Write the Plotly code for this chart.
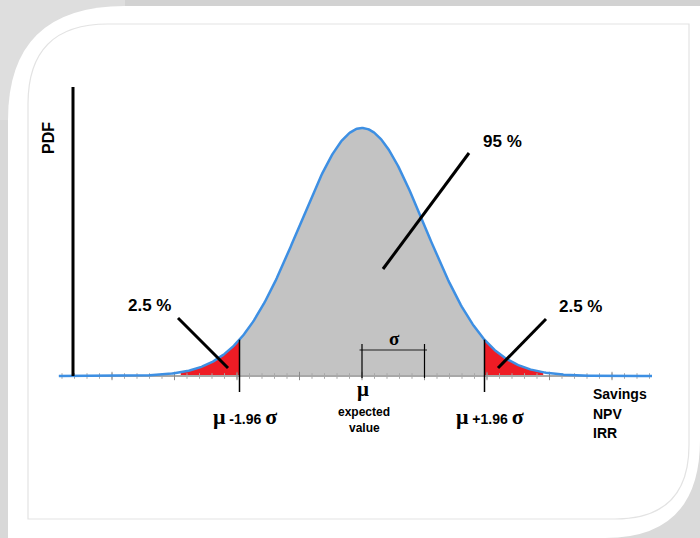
import numpy as np
import plotly.graph_objects as go

# ---------------- data (in units of sigma) ----------------
MU = 0.0
SIGMA = 1.0
Z_CRIT = 1.96
X_MIN, X_MAX = -4.85, 4.64          # extent of the drawn curve
RED_TAIL = 2.9                      # where the red tails become visible
MAJOR_TICKS = [-4, -3, -2, -1, 0, 1, 2, 3, 4]
MINOR_STEP = 0.2

LBL_PDF = "PDF"
LBL_CENTER = "95 %"
LBL_TAIL = "2.5 %"
LBL_MU = "μ"
LBL_EXPECTED = ["expected", "value"]
LBL_SIGMA = "σ"
LBL_AXIS = ["Savings", "NPV", "IRR"]

# ---------------- helpers ----------------
W, H = 700, 538
SIG_PX = 62.5        # pixels per sigma
MU_PX = 362.0        # pixel of mu
BASE_PX = 376.0      # pixel of baseline
Y_PX = 621.6         # pixels per pdf unit


def pdf(x):
    return np.exp(-0.5 * ((x - MU) / SIGMA) ** 2) / (SIGMA * np.sqrt(2 * np.pi))


def px(x):
    return x / W


def py(y):
    return 1 - y / H


x_range = [(0 - MU_PX) / SIG_PX, (W - MU_PX) / SIG_PX]
y_range = [-(H - BASE_PX) / Y_PX, BASE_PX / Y_PX]

xs = np.linspace(X_MIN, X_MAX, 600)
ys = pdf(xs)

BLUE = "#3d8fe3"
GRAY = "#c3c3c3"
RED = "#ee1c25"

fig = go.Figure()

# gray central area
xc = xs[(xs >= -Z_CRIT) & (xs <= Z_CRIT)]
xc = np.concatenate([[-Z_CRIT], xc, [Z_CRIT]])
fig.add_trace(go.Scatter(x=xc, y=pdf(xc), fill="tozeroy", fillcolor=GRAY,
                         mode="none", hoverinfo="skip"))
# red tails
for lo, hi in [(-RED_TAIL, -Z_CRIT), (Z_CRIT, RED_TAIL)]:
    xt = np.linspace(lo, hi, 80)
    fig.add_trace(go.Scatter(x=xt, y=pdf(xt), fill="tozeroy", fillcolor=RED,
                             mode="none", hoverinfo="skip"))

# baseline
fig.add_trace(go.Scatter(x=[X_MIN, X_MAX], y=[0, 0], mode="lines",
                         line=dict(color="#a8a8a8", width=2), hoverinfo="skip"))
# ticks
minor = np.arange(-4.8, 4.61, MINOR_STEP)
fig.add_trace(go.Scatter(x=minor, y=np.zeros_like(minor), mode="markers",
                         marker=dict(symbol="line-ns", size=4,
                                     line=dict(width=1, color="#a8a8a8")),
                         hoverinfo="skip"))
fig.add_trace(go.Scatter(x=MAJOR_TICKS, y=[0] * len(MAJOR_TICKS), mode="markers",
                         marker=dict(symbol="line-ns", size=6,
                                     line=dict(width=1, color="#8a8a8a")),
                         hoverinfo="skip"))

# curve
fig.add_trace(go.Scatter(x=xs, y=ys, mode="lines",
                         line=dict(color=BLUE, width=2.5), hoverinfo="skip"))

shapes = []

# ---------- decorative frame (paper pixels) ----------
shapes.append(dict(type="rect", xref="paper", yref="paper", x0=0, x1=1,
                   y0=py(6), y1=1, fillcolor="#d2d2d2", line_width=0, layer="below"))
shapes.append(dict(type="rect", xref="paper", yref="paper", x0=0, x1=px(8),
                   y0=0, y1=1, fillcolor="#d8d8d8", line_width=0, layer="below"))
shapes.append(dict(type="rect", xref="paper", yref="paper", x0=0, x1=px(125),
                   y0=py(120), y1=1, fillcolor="#dedede", line_width=0, layer="below"))
shapes.append(dict(type="rect", xref="paper", yref="paper", x0=px(590), x1=1,
                   y0=0, y1=py(430), fillcolor="#dadada", line_width=0, layer="below"))


def P(x, y):
    return f"{px(x):.5f},{py(y):.5f}"


card = (f"M {P(8,120)} Q {P(8,6)} {P(125,6)} L {P(700,6)} L {P(700,440)} "
        f"Q {P(700,538)} {P(605,538)} L {P(8,538)} Z")
shapes.append(dict(type="path", xref="paper", yref="paper", path=card,
                   fillcolor="white", line_width=0, layer="below"))
inner = (f"M {P(28,104)} Q {P(28,24)} {P(108,24)} L {P(689,24)} L {P(689,445)} "
         f"Q {P(689,519)} {P(615,519)} L {P(28,519)} Z")
shapes.append(dict(type="path", xref="paper", yref="paper", path=inner,
                   fillcolor="rgba(0,0,0,0)", line=dict(color="#e3e3e3", width=1.2),
                   layer="below"))

# ---------- vertical PDF axis ----------
shapes.append(dict(type="line", xref="paper", yref="paper", x0=px(73), x1=px(73),
                   y0=py(376), y1=py(87), line=dict(color="black", width=3)))

# ---------- critical lines ----------
below = -16 / Y_PX
for z in (-Z_CRIT, Z_CRIT):
    shapes.append(dict(type="line", xref="x", yref="y", x0=MU + z * SIGMA,
                       x1=MU + z * SIGMA, y0=below, y1=float(pdf(MU + z * SIGMA)),
                       line=dict(color="black", width=1.5)))

# ---------- sigma bracket ----------
br_y = 26 / Y_PX
shapes.append(dict(type="line", xref="x", yref="y", x0=MU - 0.04, x1=MU + SIGMA + 0.04,
                   y0=br_y, y1=br_y, line=dict(color="#555555", width=1.5)))
for xv in (MU, MU + SIGMA):
    shapes.append(dict(type="line", xref="x", yref="y", x0=xv, x1=xv,
                       y0=-2 / Y_PX, y1=32 / Y_PX, line=dict(color="black", width=1.2)))

# ---------- leader lines ----------
for (a, b, c, d) in [(178, 318, 228, 368), (546, 319, 498, 368), (469, 153, 383, 269)]:
    shapes.append(dict(type="line", xref="paper", yref="paper", x0=px(a), y0=py(b),
                       x1=px(c), y1=py(d), line=dict(color="black", width=3)))

fig.update_layout(shapes=shapes)

# ---------- text ----------
SANS = "Liberation Sans, Arial, sans-serif"
SERIF = "Liberation Serif, Times New Roman, serif"


def ann(text, x, y, size, family=SANS, angle=0, xanchor="center"):
    fig.add_annotation(text=text, x=px(x), y=py(y), xref="paper", yref="paper",
                       showarrow=False, textangle=angle, xanchor=xanchor,
                       yanchor="middle", font=dict(size=size, family=family, color="black"))


ann(f"<b>{LBL_PDF}</b>", 48, 138, 16, angle=-90)
ann(f"<b>{LBL_CENTER}</b>", 503, 141, 17)
ann(f"<b>{LBL_TAIL}</b>", 149, 305, 17)
ann(f"<b>{LBL_TAIL}</b>", 580, 306, 17)
mu_span = f"<span style='font-family:{SERIF};font-size:22px'>{LBL_MU}</span>"
sg_span = f"<span style='font-family:{SERIF};font-size:22px'>{LBL_SIGMA}</span>"
ann(f"<b>{mu_span} -{Z_CRIT:.2f} {sg_span}</b>", 245, 416, 14)
ann(f"<b>{mu_span} +{Z_CRIT:.2f} {sg_span}</b>", 490, 416, 14)
ann(f"<b>{LBL_MU}</b>", 363, 389, 21, family=SERIF)
ann(f"<b>{LBL_EXPECTED[0]}</b>", 364, 412, 12)
ann(f"<b>{LBL_EXPECTED[1]}</b>", 364, 428, 12)
ann(f"<b>{LBL_SIGMA}</b>", 394, 338, 19, family=SERIF)
for i, t in enumerate(LBL_AXIS):
    ann(f"<b>{t}</b>", 591, 394 + 19.5 * i, 14, xanchor="left")

fig.update_layout(
    width=W, height=H, margin=dict(l=0, r=0, t=0, b=0),
    paper_bgcolor="white", plot_bgcolor="rgba(0,0,0,0)", showlegend=False,
    xaxis=dict(range=x_range, visible=False, domain=[0, 1], fixedrange=True),
    yaxis=dict(range=y_range, visible=False, domain=[0, 1], fixedrange=True),
    hovermode=False,
)

fig.write_html("out.html", config={"displayModeBar": False, "staticPlot": True})

# remove the browser's default page margin so the figure fills the window
with open("out.html", "r", encoding="utf-8") as f:
    html = f.read()
html = html.replace("<body>", "<body style=\"margin:0;overflow:hidden\">", 1)
with open("out.html", "w", encoding="utf-8") as f:
    f.write(html)
